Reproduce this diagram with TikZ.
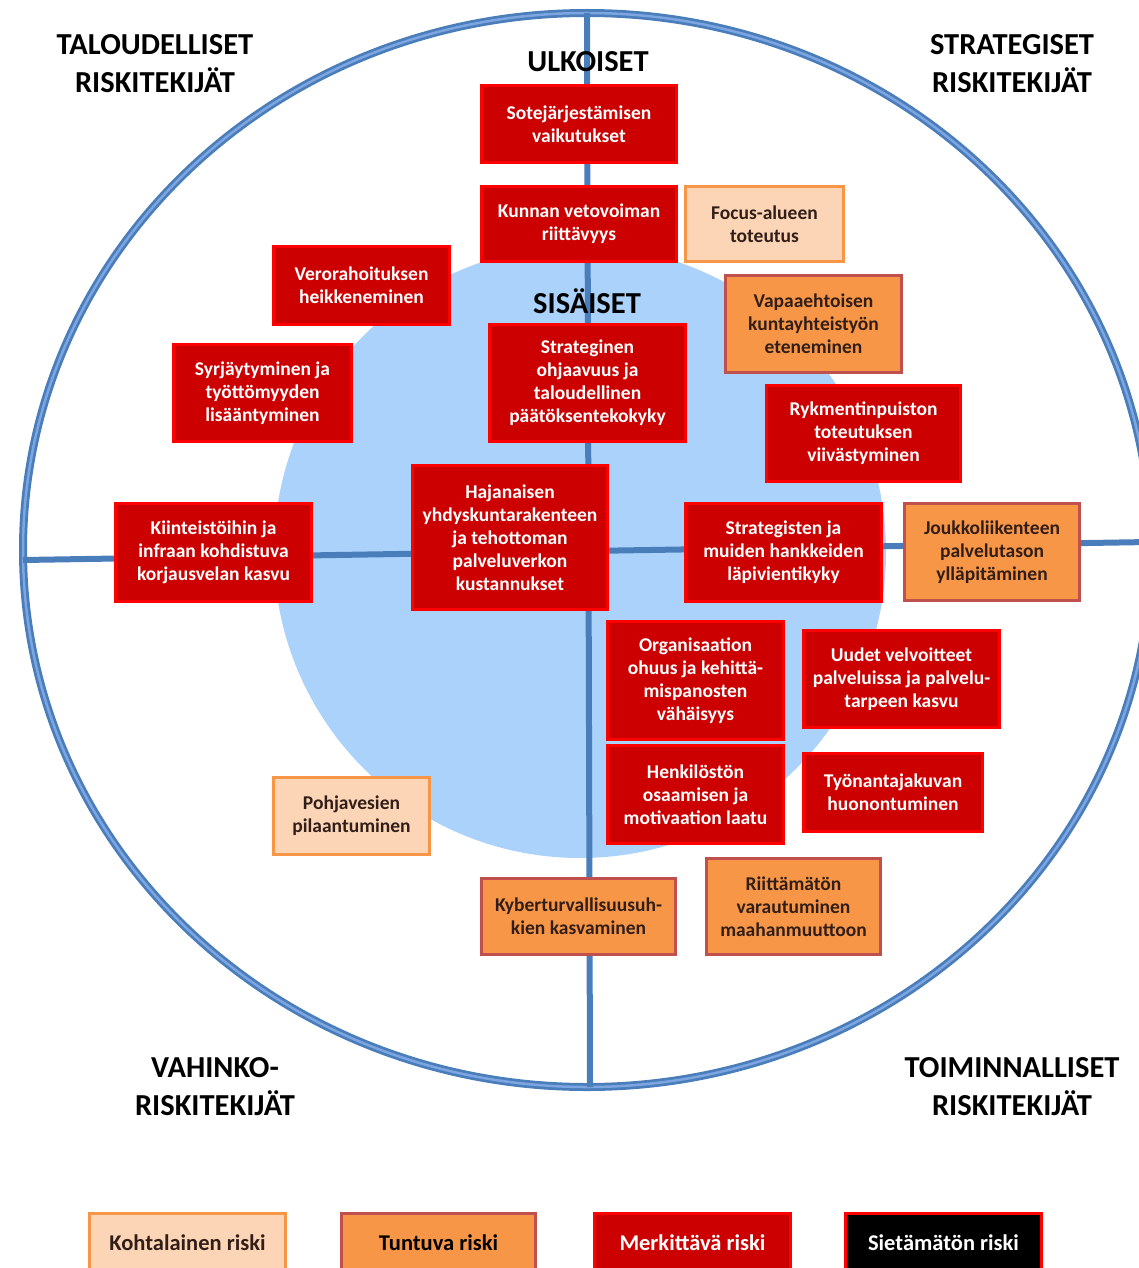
\documentclass[tikz,border=0pt]{standalone}
\usepackage{fontspec}
\setmainfont{Carlito}
\definecolor{lineblue}{RGB}{74,126,187}
\definecolor{ringlight}{RGB}{125,165,225}
\definecolor{diskblue}{RGB}{170,210,250}
\definecolor{redfill}{RGB}{204,0,0}
\definecolor{redline}{RGB}{255,0,0}
\definecolor{orangefill}{RGB}{247,150,70}
\definecolor{orangeline}{RGB}{192,80,77}
\definecolor{palefill}{RGB}{251,213,181}
\definecolor{paleline}{RGB}{247,150,70}
\definecolor{darktext}{RGB}{50,30,25}
\tikzset{
  riskbox/.style={rectangle, line width=3pt, inner sep=0pt, align=center,
    font=\bfseries\fontsize{19.5}{23}\selectfont},
  redbox/.style={riskbox, fill=redfill, draw=redline, text=white},
  orangebox/.style={riskbox, fill=orangefill, draw=orangeline, text=darktext},
  palebox/.style={riskbox, fill=palefill, draw=paleline, text=darktext},
  blackbox/.style={riskbox, fill=black, draw=redline, text=white},
  bigtitle/.style={align=center, inner sep=0pt, font=\bfseries\fontsize{30.5}{38}\selectfont, text=black},
  legendtext/.style={font=\bfseries\fontsize{22.5}{27}\selectfont},
  axis/.style={draw=lineblue, line width=6pt}
}
\begin{document}
\begin{tikzpicture}[x=1pt,y=-1pt]
\useasboundingbox (0,0) rectangle (1139,1268);
\clip (0,0) rectangle (1139,1268);
% inner disk
\fill[diskblue] (580,552) circle [radius=306];
% outer ring
\draw[lineblue, line width=8pt] (587,550) ellipse [x radius=564, y radius=537];
\draw[ringlight, line width=2.5pt] (587,550) ellipse [x radius=564, y radius=537];
% axes
\coordinate (vtop) at (587,13);
\coordinate (vbot) at (590,1087);
\coordinate (hleft) at (23,560);
\coordinate (hright) at (1150,542);
\draw[axis] (vtop) -- (vbot);
\draw[axis] (hleft) -- (hright);
% titles
\node[bigtitle] (talous) at (155,64) {TALOUDELLISET\\RISKITEKIJÄT};
\node[bigtitle] (strateg) at (1012,64) {STRATEGISET\\RISKITEKIJÄT};
\node[bigtitle] (vahinko) at (215,1087) {VAHINKO-\\RISKITEKIJÄT};
\node[bigtitle] (toimin) at (1012,1087) {TOIMINNALLISET\\RISKITEKIJÄT};
\node[bigtitle] (ulkoiset) at (588,62) {ULKOISET};
\node[bigtitle] (sisaiset) at (587,301) {SISÄISET};
% risk boxes
\node[redbox, minimum width=195pt, minimum height=77pt] (sote) at (579,124) {Sotejärjestämisen\\vaikutukset};
\node[redbox, minimum width=195pt, minimum height=75pt] (kunnan) at (579,224) {Kunnan vetovoiman\\riittävyys};
\node[palebox, minimum width=158pt, minimum height=75pt] (focus) at (764.5,224) {Focus-alueen\\toteutus};
\node[redbox, minimum width=176pt, minimum height=78pt] (vero) at (361.5,285.5) {Verorahoituksen\\heikkeneminen};
\node[redbox, minimum width=178pt, minimum height=97pt] (syrja) at (262.5,393) {Syrjäytyminen ja\\työttömyyden\\lisääntyminen};
\node[redbox, minimum width=196pt, minimum height=117pt] (ohjaus) at (587.5,383) {Strateginen\\ohjaavuus ja\\taloudellinen\\päätöksentekokyky};
\node[orangebox, minimum width=176pt, minimum height=97pt] (vapaa) at (813.5,324) {Vapaaehtoisen\\kuntayhteistyön\\eteneminen};
\node[redbox, minimum width=194pt, minimum height=96pt] (rykm) at (863.5,433.5) {Rykmentinpuiston\\toteutuksen\\viivästyminen};
\node[redbox, minimum width=196pt, minimum height=98pt] (kiint) at (213.5,552.5) {Kiinteistöihin ja\\infraan kohdistuva\\korjausvelan kasvu};
\node[redbox, minimum width=195pt, minimum height=144pt] (haja) at (510,537.5) {Hajanaisen\\yhdyskuntarakenteen\\ja tehottoman\\palveluverkon\\kustannukset};
\node[redbox, minimum width=196pt, minimum height=98pt] (hanke) at (783.5,552.5) {Strategisten ja\\muiden hankkeiden\\läpivientikyky};
\node[orangebox, minimum width=175pt, minimum height=97pt] (joukko) at (992,552) {Joukkoliikenteen\\palvelutason\\ylläpitäminen};
\node[redbox, minimum width=176pt, minimum height=118pt] (org) at (695.5,680.5) {Organisaation\\ohuus ja kehittä-\\mispanosten\\vähäisyys};
\node[redbox, minimum width=196pt, minimum height=97pt] (uudet) at (901.5,679) {Uudet velvoitteet\\palveluissa ja palvelu-\\tarpeen kasvu};
\node[redbox, minimum width=176pt, minimum height=98pt] (henk) at (695.5,794.5) {Henkilöstön\\osaamisen ja\\motivaation laatu};
\node[redbox, minimum width=179pt, minimum height=78pt] (tyon) at (893,792.5) {Työnantajakuvan\\huonontuminen};
\node[palebox, minimum width=156pt, minimum height=77pt] (pohja) at (351.5,816) {Pohjavesien\\pilaantuminen};
\node[orangebox, minimum width=194pt, minimum height=76pt] (kyber) at (578.5,916.5) {Kyberturvallisuusuh-\\kien kasvaminen};
\node[orangebox, minimum width=174pt, minimum height=96pt] (riitt) at (793.5,906.5) {Riittämätön\\varautuminen\\maahanmuuttoon};
% legend
\node[palebox, legendtext, minimum width=196pt, minimum height=59pt] (leg1) at (187.5,1243) {Kohtalainen riski};
\node[orangebox, legendtext, text=black, minimum width=194pt, minimum height=59pt] (leg2) at (438.5,1243) {Tuntuva riski};
\node[redbox, legendtext, minimum width=196pt, minimum height=59pt] (leg3) at (692.5,1243) {Merkittävä riski};
\node[blackbox, legendtext, minimum width=196pt, minimum height=59pt] (leg4) at (943.5,1243) {Sietämätön riski};
\end{tikzpicture}
\end{document}
